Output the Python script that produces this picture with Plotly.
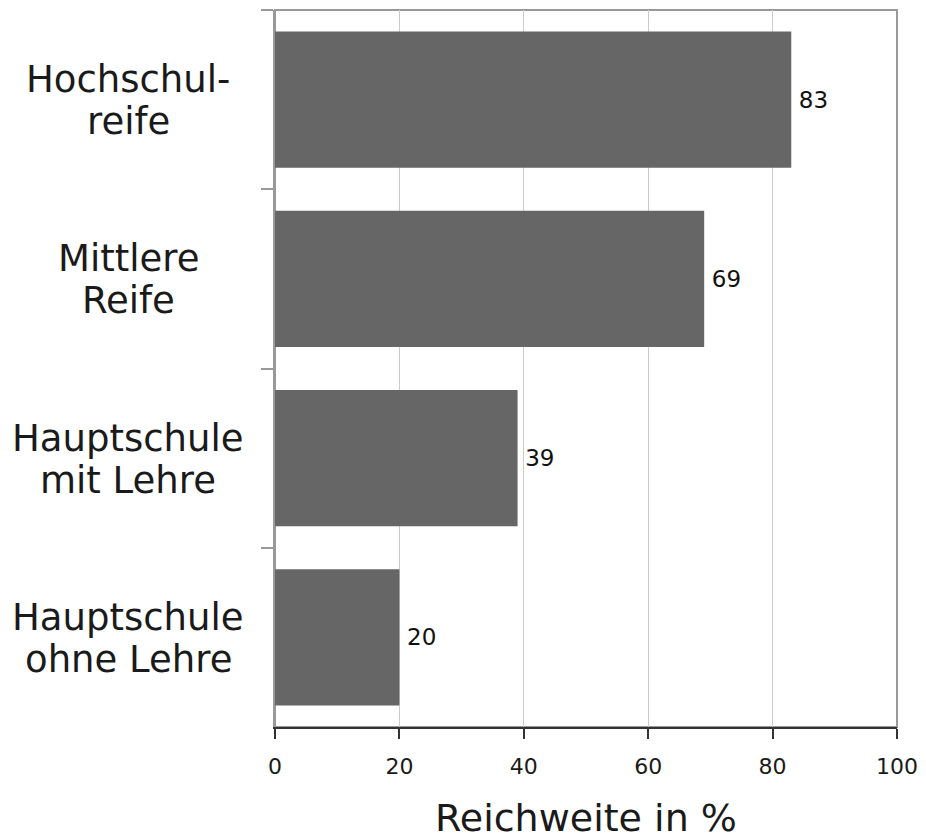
import plotly.graph_objects as go

categories = ["Hochschul-\nreife", "Mittlere\nReife", "Hauptschule\nmit Lehre", "Hauptschule\nohne Lehre"]
values = [83, 69, 39, 20]
x_ticks = [0, 20, 40, 60, 80, 100]
x_title = "Reichweite in %"

FONT = "DejaVu Sans"

fig = go.Figure()
fig.add_trace(go.Bar(
    x=values,
    y=categories,
    orientation="h",
    marker=dict(color="#666666", line=dict(width=0)),
    text=["\u2009" + str(v) for v in values],
    textposition="outside",
    textfont=dict(family=FONT, size=23, color="#111111"),
    cliponaxis=False,
    hoverinfo="skip",
))

# Category labels as centered annotations (two lines each)
annotations = []
for cat in categories:
    lines = cat.split("\n")
    n = len(lines)
    for i, line in enumerate(lines):
        annotations.append(dict(
            x=-0.236, xref="paper", y=cat, yref="y",
            text=line, showarrow=False, xanchor="center", yanchor="middle",
            yshift=(n - 1) / 2 * 42 - i * 42 - 1,
            font=dict(family=FONT, size=37, color="#1a1a1a"),
        ))

fig.update_layout(
    width=918, height=832,
    margin=dict(l=267, r=29, t=2, b=113),
    paper_bgcolor="white", plot_bgcolor="white",
    showlegend=False,
    bargap=0.24,
    annotations=annotations,
    shapes=[dict(type="rect", xref="paper", yref="paper", x0=0, y0=0, x1=1, y1=1,
                 line=dict(color="#999999", width=2), layer="below")],
    xaxis=dict(
        range=[0, 100], tickvals=x_ticks, ticktext=[str(t) for t in x_ticks],
        showgrid=True, gridcolor="#cccccc", gridwidth=1,
        zeroline=False,
        showline=True, linecolor="#333333", linewidth=2,
        ticks="outside", ticklen=10, tickcolor="#333333", tickwidth=1.5,
        ticklabelstandoff=9,
        tickfont=dict(family=FONT, size=22, color="#1a1a1a"),
        title=dict(text=x_title, font=dict(family=FONT, size=38, color="#1a1a1a"), standoff=29),
        fixedrange=True,
    ),
    yaxis=dict(
        autorange="reversed",
        showticklabels=False,
        showgrid=False, zeroline=False,
        showline=True, linecolor="#999999", linewidth=2,
        ticks="outside", tickson="boundaries", ticklen=12, tickcolor="#999999", tickwidth=1.5,
        fixedrange=True,
    ),
)

fig.write_html("out.html")
